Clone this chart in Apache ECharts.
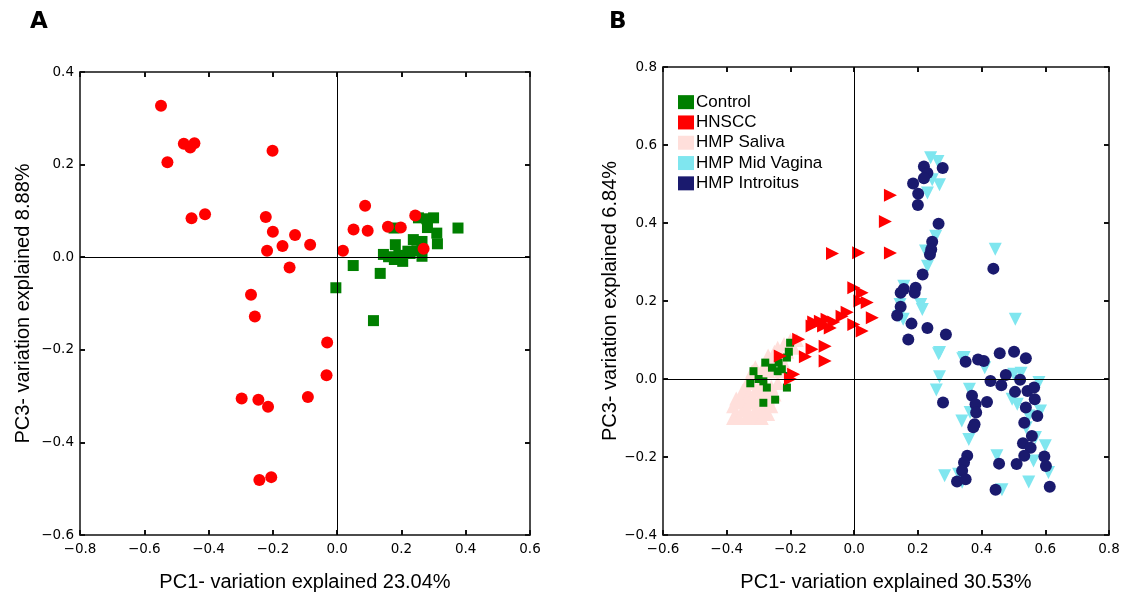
<!DOCTYPE html>
<html>
<head>
<meta charset="utf-8">
<script src="https://cdn.jsdelivr.net/npm/echarts@6/dist/echarts.min.js"></script>
<style>
  html, body { margin: 0; padding: 0; background: #fff; }
  #chart { width: 1136px; height: 597px; }
</style>
</head>
<body>
<div id="chart"></div>
<script>
// panel A: PC1 vs PC3
const aHnscc = [
  [-0.548, 0.327], [-0.528, 0.205], [-0.477, 0.245], [-0.457, 0.237], [-0.444, 0.246],
  [-0.201, 0.230], [-0.453, 0.084], [-0.411, 0.093], [-0.222, 0.087], [-0.200, 0.055],
  [-0.131, 0.048], [-0.170, 0.024], [-0.218, 0.014], [-0.084, 0.027], [-0.148, -0.022],
  [-0.268, -0.081], [0.018, 0.014], [0.051, 0.060], [0.095, 0.057], [0.087, 0.111],
  [0.158, 0.066], [0.198, 0.064], [0.243, 0.090], [0.269, 0.018], [-0.256, -0.128],
  [-0.031, -0.184], [-0.033, -0.255], [-0.297, -0.305], [-0.245, -0.308], [-0.215, -0.323],
  [-0.091, -0.302], [-0.242, -0.481], [-0.205, -0.475]
];
const aControl = [
  [-0.004, -0.066], [0.050, -0.018], [0.134, -0.035], [0.113, -0.137], [0.181, 0.027],
  [0.144, 0.006], [0.160, 0.001], [0.178, -0.005], [0.204, -0.009], [0.177, 0.063],
  [0.220, 0.013], [0.237, 0.038], [0.264, 0.034], [0.248, 0.014], [0.264, 0.002],
  [0.253, 0.085], [0.279, 0.083], [0.300, 0.085], [0.281, 0.064], [0.310, 0.052],
  [0.312, 0.029], [0.376, 0.063], [0.227, 0.008], [0.192, 0.004]
];

// panel B: PC1 vs PC3 with HMP samples
const bSaliva = [
  [-0.38, -0.07], [-0.38, -0.10], [-0.37, -0.05], [-0.37, -0.09], [-0.36, -0.10],
  [-0.35, -0.08], [-0.34, -0.10], [-0.33, -0.09], [-0.32, -0.10], [-0.31, -0.08],
  [-0.30, -0.09], [-0.29, -0.10], [-0.28, -0.08], [-0.27, -0.09], [-0.36, -0.06],
  [-0.35, -0.05], [-0.34, -0.07], [-0.33, -0.06], [-0.32, -0.05], [-0.31, -0.06],
  [-0.30, -0.07], [-0.29, -0.05], [-0.28, -0.06], [-0.27, -0.05], [-0.26, -0.07],
  [-0.35, -0.03], [-0.34, -0.02], [-0.33, -0.04], [-0.32, -0.01], [-0.31, -0.03],
  [-0.30, -0.02], [-0.29, -0.04], [-0.28, -0.01], [-0.27, -0.03], [-0.26, -0.02],
  [-0.25, -0.04], [-0.24, -0.01], [-0.33, 0.00], [-0.30, 0.01], [-0.32, 0.02],
  [-0.31, 0.03], [-0.29, 0.02], [-0.28, 0.04], [-0.27, 0.02], [-0.26, 0.04],
  [-0.25, 0.03], [-0.24, 0.05], [-0.23, 0.02], [-0.22, 0.04], [-0.27, 0.06],
  [-0.25, 0.07], [-0.24, 0.08], [-0.23, 0.06], [-0.22, 0.09], [-0.21, 0.07],
  [-0.20, 0.10], [-0.18, 0.10], [-0.19, 0.08]
];
const bControl = [
  [-0.201, 0.093], [-0.211, 0.055], [-0.205, 0.070], [-0.237, 0.042], [-0.258, 0.029],
  [-0.279, 0.042], [-0.227, 0.025], [-0.285, -0.006], [-0.316, 0.020], [-0.274, -0.022],
  [-0.248, -0.053], [-0.211, -0.022], [-0.240, 0.020], [-0.326, -0.011], [-0.285, -0.061],
  [-0.207, 0.008], [-0.300, 0.000]
];
const bHnscc = [
  [-0.001, 0.234], [0.025, 0.221], [0.018, 0.200], [0.041, 0.196], [0.057, 0.157],
  [-0.001, 0.140], [0.025, 0.123], [-0.022, 0.171], [-0.038, 0.161], [-0.064, 0.146],
  [-0.085, 0.153], [-0.106, 0.148], [-0.127, 0.146], [-0.132, 0.136], [-0.096, 0.136],
  [-0.075, 0.131], [-0.091, 0.084], [-0.091, 0.046], [-0.132, 0.076], [-0.153, 0.057],
  [-0.174, 0.102], [-0.190, 0.012], [-0.200, 0.000], [-0.232, 0.059], [0.114, 0.471],
  [0.098, 0.404], [0.114, 0.323], [0.014, 0.324], [-0.068, 0.322]
];
const bMidVagina = [
  [0.240, 0.567], [0.263, 0.558], [0.245, 0.511], [0.268, 0.498], [0.230, 0.477],
  [0.256, 0.366], [0.224, 0.328], [0.230, 0.289], [0.156, 0.238], [0.209, 0.191],
  [0.214, 0.178], [0.144, 0.191], [0.141, 0.161], [0.154, 0.153], [0.268, 0.068],
  [0.345, 0.055], [0.443, 0.333], [0.506, 0.153], [0.265, 0.065], [0.341, 0.052],
  [0.268, 0.006], [0.258, -0.028], [0.362, -0.026], [0.410, 0.029], [0.501, 0.012],
  [0.524, 0.015], [0.496, -0.052], [0.512, -0.065], [0.580, -0.009], [0.585, -0.082],
  [0.548, -0.095], [0.569, -0.150], [0.600, -0.171], [0.563, -0.210], [0.610, -0.240],
  [0.548, -0.264], [0.464, -0.284], [0.448, -0.197], [0.338, -0.108], [0.364, -0.086],
  [0.360, -0.155], [0.284, -0.248], [0.328, -0.244], [0.339, -0.265], [0.540, -0.125]
];
const bIntroitus = [
  [0.278, 0.541], [0.219, 0.545], [0.230, 0.528], [0.219, 0.515], [0.185, 0.501],
  [0.201, 0.475], [0.200, 0.446], [0.265, 0.398], [0.245, 0.352], [0.242, 0.332],
  [0.238, 0.319], [0.215, 0.268], [0.156, 0.231], [0.193, 0.234], [0.146, 0.221],
  [0.190, 0.221], [0.146, 0.185], [0.135, 0.163], [0.180, 0.142], [0.230, 0.131],
  [0.288, 0.114], [0.170, 0.101], [0.437, 0.283], [0.350, 0.044], [0.389, 0.050],
  [0.407, 0.046], [0.457, 0.066], [0.502, 0.070], [0.539, 0.053], [0.428, -0.005],
  [0.462, -0.016], [0.476, 0.010], [0.521, -0.002], [0.505, -0.033], [0.544, -0.031],
  [0.565, -0.022], [0.567, -0.052], [0.539, -0.073], [0.279, -0.060], [0.417, -0.059],
  [0.370, -0.043], [0.381, -0.065], [0.378, -0.116], [0.374, -0.124], [0.534, -0.112],
  [0.530, -0.165], [0.554, -0.176], [0.534, -0.197], [0.597, -0.199], [0.602, -0.223],
  [0.510, -0.218], [0.455, -0.217], [0.614, -0.276], [0.444, -0.284], [0.355, -0.197],
  [0.345, -0.214], [0.339, -0.235], [0.323, -0.263], [0.350, -0.257], [0.575, -0.095],
  [0.558, -0.146], [0.383, -0.086]
];

const aXTicks = [-0.8, 0.6, 0.2];
const aYTicks = [-0.6, 0.4, 0.2];
const bXTicks = [-0.6, 0.8, 0.2];
const bYTicks = [-0.4, 0.8, 0.2];

const tickFmt = v => (v < 0 ? '\u2212' : '') + Math.abs(v).toFixed(1);
const frameLine = { show: true, onZero: false, lineStyle: { color: '#111', width: 1.5 } };
const frameTick = { show: true, inside: true, length: 5, lineStyle: { color: '#111', width: 2 } };
const tickLabel = { fontFamily: 'DejaVu Sans', fontSize: 13.5, color: '#000', formatter: tickFmt };
const titleFont = { fontFamily: 'Liberation Sans', fontSize: 20, color: '#000' };
const letterFont = { fontFamily: 'DejaVu Sans', fontWeight: 'bold', fontSize: 23, color: '#000' };

function mkX(grid, t, name, pos) {
  return {
    type: 'value', gridIndex: grid, min: t[0], max: t[1], interval: t[2], position: pos,
    splitLine: { show: false }, axisLine: frameLine, axisTick: frameTick,
    axisLabel: pos === 'bottom' ? Object.assign({ margin: 7 }, tickLabel) : { show: false },
    name: name, nameLocation: 'middle', nameGap: 37, nameTextStyle: titleFont
  };
}
function mkY(grid, t, name, pos, gap) {
  return {
    type: 'value', gridIndex: grid, min: t[0], max: t[1], interval: t[2], position: pos,
    splitLine: { show: false }, axisLine: frameLine, axisTick: frameTick,
    axisLabel: pos === 'left' ? Object.assign({ margin: 6 }, tickLabel) : { show: false },
    name: name, nameLocation: 'middle', nameGap: gap, nameTextStyle: titleFont
  };
}

const zeroLines = {
  silent: true, symbol: 'none', label: { show: false },
  lineStyle: { color: '#000', width: 1, type: 'solid' },
  data: [{ xAxis: 0 }, { yAxis: 0 }]
};

const chart = echarts.init(document.getElementById('chart'));
chart.setOption({
  animation: false,
  title: [
    { text: 'A', left: 25, top: 6, textStyle: letterFont },
    { text: 'B', left: 604, top: 6, textStyle: letterFont }
  ],
  grid: [
    { left: 80, top: 72, width: 450, height: 464 },
    { left: 663, top: 67, width: 446, height: 469 }
  ],
  xAxis: [
    mkX(0, aXTicks, 'PC1- variation explained 23.04%', 'bottom'),
    mkX(0, aXTicks, '', 'top'),
    mkX(1, bXTicks, 'PC1- variation explained 30.53%', 'bottom'),
    mkX(1, bXTicks, '', 'top')
  ],
  yAxis: [
    mkY(0, aYTicks, 'PC3- variation explained 8.88%', 'left', 47),
    mkY(0, aYTicks, '', 'right', 0),
    mkY(1, bYTicks, 'PC3- variation explained 6.84%', 'left', 40),
    mkY(1, bYTicks, '', 'right', 0)
  ],
  legend: {
    orient: 'vertical', left: 673, top: 87, icon: 'rect',
    itemWidth: 16, itemHeight: 14, itemGap: 0,
    textStyle: { fontFamily: 'Liberation Sans', fontSize: 17, lineHeight: 20.3, color: '#000', padding: [0, 0, 0, -3] },
    data: ['Control', 'HNSCC', 'HMP Saliva', 'HMP Mid Vagina', 'HMP Introitus']
  },
  series: [
    { name: 'zeroA', type: 'scatter', xAxisIndex: 0, yAxisIndex: 0, data: [], z: 1, markLine: zeroLines },
    { name: 'Control A', type: 'scatter', xAxisIndex: 0, yAxisIndex: 0, data: aControl,
      symbol: 'rect', symbolSize: 11, itemStyle: { color: '#007f00', opacity: 1 } },
    { name: 'HNSCC A', type: 'scatter', xAxisIndex: 0, yAxisIndex: 0, data: aHnscc,
      symbol: 'circle', symbolSize: 12, itemStyle: { color: '#ff0000', opacity: 1 } },

    { name: 'zeroB', type: 'scatter', xAxisIndex: 2, yAxisIndex: 2, data: [], z: 1, markLine: zeroLines },
    { name: 'HMP Saliva', type: 'scatter', xAxisIndex: 2, yAxisIndex: 2, data: bSaliva,
      symbol: 'triangle', symbolSize: 14, itemStyle: { color: '#ffdfdb', opacity: 1 } },
    { name: 'Control', type: 'scatter', xAxisIndex: 2, yAxisIndex: 2, data: bControl,
      symbol: 'rect', symbolSize: 8, itemStyle: { color: '#007f00', opacity: 1 } },
    { name: 'HNSCC', type: 'scatter', xAxisIndex: 2, yAxisIndex: 2, data: bHnscc,
      symbol: 'triangle', symbolRotate: -90, symbolSize: 13, itemStyle: { color: '#ff0000', opacity: 1 } },
    { name: 'HMP Mid Vagina', type: 'scatter', xAxisIndex: 2, yAxisIndex: 2, data: bMidVagina,
      symbol: 'triangle', symbolRotate: 180, symbolSize: 13, itemStyle: { color: '#7fe6ef', opacity: 1 } },
    { name: 'HMP Introitus', type: 'scatter', xAxisIndex: 2, yAxisIndex: 2, data: bIntroitus,
      symbol: 'circle', symbolSize: 12, itemStyle: { color: '#1a1a6e', opacity: 1 } }
  ]
});
</script>
</body>
</html>
